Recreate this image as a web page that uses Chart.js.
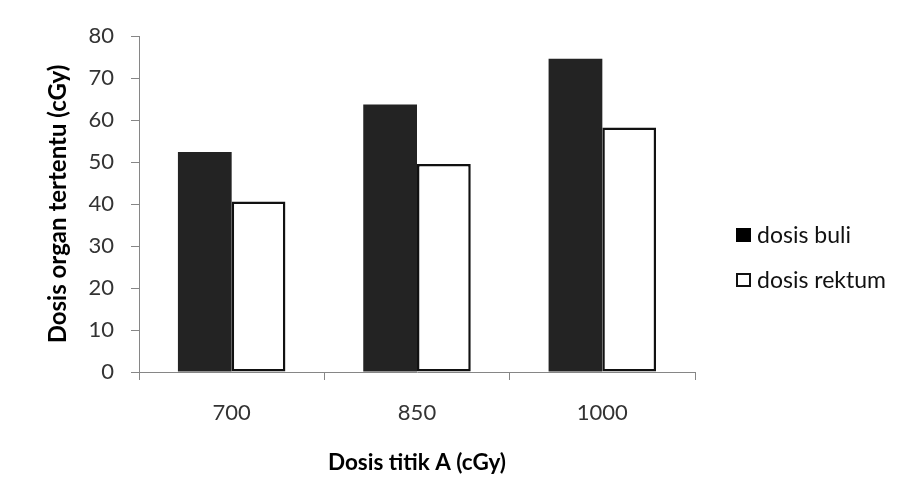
<!DOCTYPE html>
<html>
<head>
<meta charset="utf-8">
<script src="https://cdn.jsdelivr.net/npm/chart.js@4"></script>
<style>
  html, body { margin: 0; padding: 0; background: #ffffff; }
  #wrap { width: 903px; height: 499px; position: relative; }
</style>
</head>
<body>
<div id="wrap"><canvas id="chart" width="903" height="499"></canvas></div>
<script>
// Dose at point A (cGy) for each measurement
const categories = ['700', '850', '1000'];
// Organ doses (cGy)
const dosisBuli = [52.4, 63.7, 74.6];
const dosisRektum = [40.6, 49.5, 58.2];
const seriesNames = ['dosis buli', 'dosis rektum'];
const yTicks = [0, 10, 20, 30, 40, 50, 60, 70, 80];

const FONT = 'Lato, "Open Sans", "DejaVu Sans", sans-serif';
const AXIS = '#868686';

// Legend at the right, drawn from the dataset styles
const sideLegend = {
  id: 'sideLegend',
  afterDraw(chart) {
    const ctx = chart.ctx;
    ctx.save();
    ctx.font = '23px ' + FONT;
    ctx.textBaseline = 'middle';
    ctx.textAlign = 'left';
    chart.data.datasets.forEach((ds, i) => {
      const y = 235 + i * 45;
      const bx = 736, by = y - 7, bw = 15, bh = 14;
      if (ds.borderWidth > 0) {
        ctx.fillStyle = ds.backgroundColor;
        ctx.fillRect(bx, by, bw, bh);
        ctx.lineWidth = 2;
        ctx.strokeStyle = ds.borderColor;
        ctx.strokeRect(bx + 1, by + 1, bw - 2, bh - 2);
      } else {
        ctx.fillStyle = '#000000';
        ctx.fillRect(bx, by, bw, bh);
      }
      ctx.fillStyle = '#111111';
      ctx.fillText(ds.label, 757, y + 1);
    });
    ctx.restore();
  }
};

new Chart(document.getElementById('chart'), {
  type: 'bar',
  data: {
    labels: categories,
    datasets: [
      {
        label: seriesNames[0],
        data: dosisBuli,
        backgroundColor: '#232323',
        borderWidth: 0
      },
      {
        label: seriesNames[1],
        data: dosisRektum,
        backgroundColor: '#ffffff',
        borderColor: '#111111',
        borderWidth: 2.5,
        borderSkipped: false
      }
    ]
  },
  options: {
    responsive: false,
    animation: false,
    devicePixelRatio: 1,
    layout: { padding: { top: 36, right: 208, bottom: 0, left: 0 } },
    plugins: {
      legend: { display: false },
      tooltip: { enabled: false }
    },
    datasets: {
      bar: { categoryPercentage: 0.58, barPercentage: 1.0 }
    },
    scales: {
      x: {
        afterFit(scale) { scale.height = 127; },
        grid: {
          display: true,
          drawOnChartArea: false,
          drawTicks: true,
          tickLength: 8,
          color: AXIS,
          offset: true
        },
        border: { display: true, color: AXIS, width: 1 },
        ticks: {
          color: '#333333',
          font: { family: FONT, size: 22 },
          padding: 20,
          maxRotation: 0
        },
        title: {
          display: true,
          text: 'Dosis titik A (cGy)',
          color: '#000000',
          font: { family: FONT, size: 22.5, weight: 'bold' },
          padding: { top: 0, bottom: 23 }
        }
      },
      y: {
        min: 0,
        max: 80,
        afterFit(scale) { scale.width = 139; },
        afterBuildTicks(scale) { scale.ticks = yTicks.map(v => ({ value: v })); },
        grid: {
          display: true,
          drawOnChartArea: false,
          drawTicks: true,
          tickLength: 8,
          color: AXIS
        },
        border: { display: true, color: AXIS, width: 1 },
        ticks: {
          color: '#333333',
          font: { family: FONT, size: 22 },
          padding: 17
        },
        title: {
          display: true,
          text: 'Dosis organ tertentu (cGy)',
          color: '#000000',
          font: { family: FONT, size: 24, weight: 'bold' },
          padding: { top: 44, bottom: 0 }
        }
      }
    }
  },
  plugins: [sideLegend]
});
</script>
</body>
</html>
